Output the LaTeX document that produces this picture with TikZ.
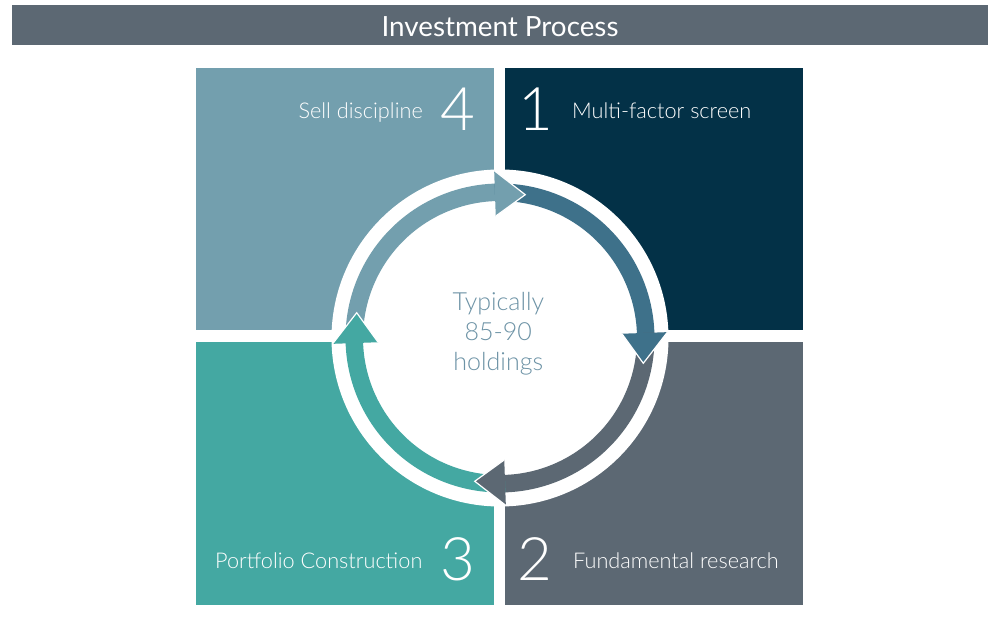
\documentclass[tikz,border=0pt]{standalone}
\usepackage{fontspec}
\setmainfont{Lato}
\newfontfamily\lightf{Lato Light}
\definecolor{sqfour}{HTML}{739FAE}
\definecolor{sqone}{HTML}{033147}
\definecolor{sqtwo}{HTML}{5C6873}
\definecolor{sqthree}{HTML}{44A8A2}
\definecolor{arrblue}{HTML}{3E718A}
\definecolor{barcol}{HTML}{5C6873}
\definecolor{ctrtext}{HTML}{6D93A6}
\begin{document}
\begin{tikzpicture}[x=1pt,y=1pt,
  square/.style={fill=#1, draw=none, inner sep=0pt, minimum width=298pt, anchor=north west},
  lbl/.style={text=white, font=\lightf\fontsize{21.7}{26}\selectfont, inner sep=0pt},
  num/.style={text=white, font=\lightf\fontsize{60}{60}\selectfont, inner sep=0pt, anchor=base},
  ctr/.style={text=ctrtext, font=\lightf\fontsize{25}{30}\selectfont, inner sep=0pt, anchor=base}]
\useasboundingbox (0,0) rectangle (988,623);
\fill[white] (0,0) rectangle (988,623);
% title bar
\node[fill=barcol, minimum width=976pt, minimum height=40pt, inner sep=0pt] (title) at (500,598) {};
\node[text=white, font=\fontsize{27.8}{30}\selectfont, inner sep=0pt] (titletext) at (500,596.5) {Investment Process};
% squares
\node[square=sqfour, minimum height=262pt] (s4) at (196,555) {};
\node[square=sqone, minimum height=262pt] (s1) at (505,555) {};
\node[square=sqthree, minimum height=263pt] (s3) at (196,281) {};
\node[square=sqtwo, minimum height=263pt] (s2) at (505,281) {};
% white ring
\fill[white] (500,285) circle[radius=168.5];
% arrows
\begin{scope}[shift={(500,285)}]
\foreach \c/\t in {sqfour/80, arrblue/-10, sqtwo/-100, sqthree/170}{
  \pgfmathsetmacro\a{\t+90+12}
  \pgfmathsetmacro\b{\t+12-1.5}
  \fill[\c] (\a:154.5) arc[start angle=\a, end angle=\b, radius=154.5]
     -- (\b:137) arc[start angle=\b, end angle=\a, radius=137] -- cycle;
}
\foreach \c/\t in {sqfour/80, arrblue/-10, sqtwo/-100, sqthree/170}{
  \pgfmathsetmacro\a{\t+12}
  \fill[\c] (\a:167.5) -- (\t:145.5) -- (\a:122) -- cycle;
  \draw[white, line width=1.2pt, line join=miter] (\a:167.5) -- (\t:145.5) -- (\a:122);
}
\end{scope}
% labels
\node[lbl, anchor=base east] (l4) at (423,504) {Sell discipline};
\node[num] (n4) at (458,492) {4};
\node[num] (n1) at (535.5,492) {1};
\node[lbl, anchor=base west] (l1) at (572,504) {Multi-factor screen};
\node[lbl, anchor=base west] (l3) at (215,54) {Portfolio Construction};
\node[num] (n3) at (457.5,42) {3};
\node[num] (n2) at (534.5,42) {2};
\node[lbl, anchor=base west] (l2) at (573,54) {Fundamental research};
% centre text
\node[ctr] (c1) at (498.3,312) {Typically};
\node[ctr] (c2) at (498.3,282) {85-90};
\node[ctr] (c3) at (498.3,252) {holdings};
\end{tikzpicture}
\end{document}
